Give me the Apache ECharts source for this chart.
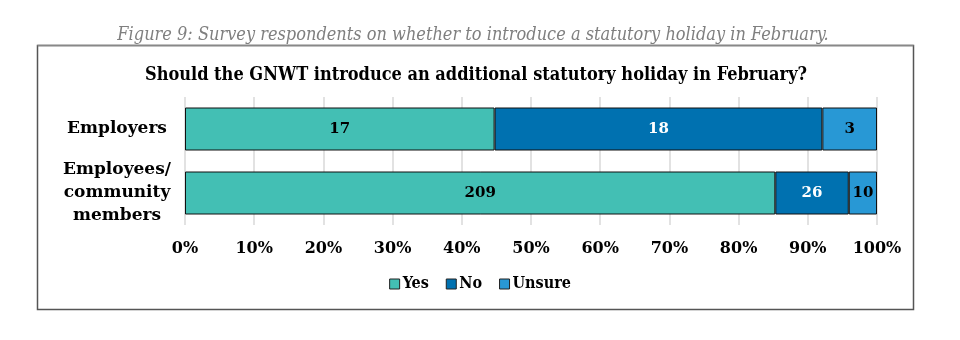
<!DOCTYPE html>
<html><head><meta charset="utf-8">
<script src="https://cdn.jsdelivr.net/npm/echarts@6/dist/echarts.min.js"></script>
<style>html,body{margin:0;padding:0;background:#fff}#c{width:960px;height:340px}</style>
</head><body><div id="c"></div>
<script>
const categories = ['Employers', 'Employees/\ncommunity\nmembers'];
const seriesNames = ['Yes', 'No', 'Unsure'];
const yesCounts = [17, 209];
const noCounts = [18, 26];
const unsureCounts = [3, 10];
const tickValues = [0, 10, 20, 30, 40, 50, 60, 70, 80, 90, 100];
const captionText = 'Figure 9: Survey respondents on whether to introduce a statutory holiday in February.';
const titleText = 'Should the GNWT introduce an additional statutory holiday in February?';

const colors = ['#43bfb4', '#0071b0', '#2898d5'];
const labelColors = ['#000', '#fff', '#000'];
const counts = [yesCounts, noCounts, unsureCounts];
const totals = categories.map((_, i) => yesCounts[i] + noCounts[i] + unsureCounts[i]);
const serif = '"DejaVu Serif", "Liberation Serif", serif';
const serifCond = '"DejaVu Serif Condensed", "DejaVu Serif", serif';

const chart = echarts.init(document.getElementById('c'), null, {renderer: 'canvas'});
chart.setOption({
  animation: false,
  backgroundColor: '#fff',
  graphic: [
    {type: 'rect', shape: {x: 37.5, y: 45.5, width: 876, height: 264}, style: {fill: 'none', stroke: '#555', lineWidth: 1.5}, z: 0},
    {type: 'line', shape: {x1: 37.5, y1: 45.5, x2: 913.5, y2: 45.5}, style: {stroke: '#888', lineWidth: 1.5}, z: 1},
    {type: 'text', x: 473, y: 26, style: {text: captionText, align: 'center', fill: '#7f7f7f', font: 'italic 18px "DejaVu Serif Condensed", "DejaVu Serif", serif'}},
  ],
  title: {
    text: titleText, left: 471, textAlign: 'center', top: 61,
    textStyle: {fontFamily: serifCond, fontWeight: 'bold', fontSize: 18, color: '#000'}
  },
  legend: {
    data: seriesNames, left: 'center', top: 271, itemWidth: 10, itemHeight: 10, itemGap: 17, icon: 'rect',
    itemStyle: {borderColor: '#222', borderWidth: 1},
    textStyle: {fontFamily: serifCond, fontWeight: 'bold', fontSize: 16, color: '#000', padding: [0, 0, 0, -2]}
  },
  grid: {left: 185, right: 83, top: 97, height: 128, containLabel: false},
  xAxis: {
    type: 'value', min: 0, max: 100, interval: 10,
    axisLine: {show: false}, axisTick: {show: false},
    splitLine: {lineStyle: {color: '#d9d9d9', width: 1.5}},
    axisLabel: {formatter: v => tickValues.includes(v) ? v + '%' : '', margin: 16, fontFamily: serif, fontWeight: 'bold', fontSize: 16, color: '#000'}
  },
  yAxis: {
    type: 'category', data: categories, inverse: true,
    axisLine: {show: false}, axisTick: {show: false},
    axisLabel: {margin: 68, fontFamily: serif, fontWeight: 'bold', fontSize: 17, lineHeight: 23, color: '#000', align: 'center'}
  },
  series: seriesNames.map((name, s) => ({
    name, type: 'bar', stack: 'total', barWidth: 43,
    data: counts[s].map((v, i) => v / totals[i] * 100),
    itemStyle: {color: colors[s], borderColor: '#111', borderWidth: 1},
    label: {
      show: true, position: 'inside', color: labelColors[s],
      fontFamily: serif, fontWeight: 'bold', fontSize: 15,
      formatter: p => String(counts[s][p.dataIndex])
    }
  }))
});
</script></body></html>
